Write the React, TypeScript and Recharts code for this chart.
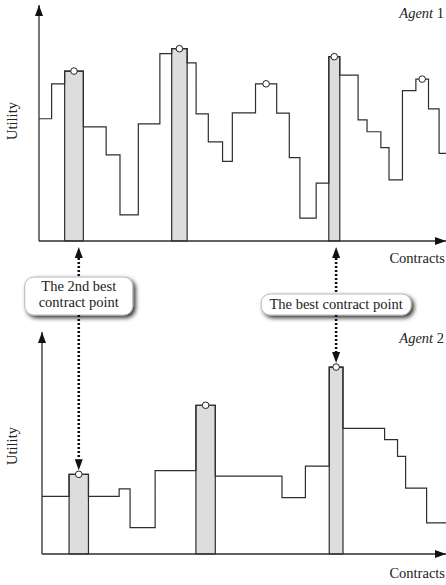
import { ComposedChart, Line, ReferenceArea, ReferenceDot, Scatter, XAxis, YAxis } from 'recharts';

// contract boundaries on a 0..100 contract axis, utility 0..100
const agent1Edges = [0, 3.1, 6.3, 10.9, 16.5, 19.9, 24.4, 29.7, 32.6, 36.4, 38.6, 41.6, 45.1, 47.5, 53.2, 58.4, 61.5, 64.1, 68.1, 71.2, 73.9, 78.4, 80.6, 84.0, 86.0, 89.3, 92.6, 95.7, 98.3];
const agent1Utility = [51.8, 66.6, 72.0, 48.4, 36.5, 11.1, 49.6, 79.4, 81.5, 75.5, 53.9, 42.0, 33.7, 54.3, 66.6, 54.2, 35.3, 9.7, 24.5, 78.1, 70.3, 51.3, 46.3, 39.6, 25.9, 63.7, 68.6, 56.0, 37.1];
const agent1Bars = [2, 8, 19];
const agent1Marks = [2, 8, 14, 19, 26];

const agent2Edges = [0, 6.7, 11.5, 19.1, 21.8, 28.0, 38.1, 42.9, 59.4, 65.2, 71.1, 74.5, 84.8, 88.0, 90.0, 95.2];
const agent2Utility = [26.0, 35.9, 26.0, 29.3, 11.9, 37.6, 67.0, 35.1, 25.4, 39.6, 84.2, 56.6, 51.5, 44.0, 29.7, 14.0];
const agent2Bars = [1, 6, 10];
const agent2Marks = [1, 6, 10];

const calloutIndex = [1, 10];
const calloutLines = [['The 2nd best', 'contract point'], ['The best contract point']];

const FONT = '"Liberation Serif", Tinos, "Times New Roman", "DejaVu Serif", serif';
const INK = '#2e2e2e';
const BAR_FILL = '#dddddd';

// box geometry for the two callouts (svg px of the lower panel)
const calloutBox = [
  { top: 39, h: 38, w: 108, first: 13.5 },
  { top: 56, h: 21, w: 150, first: 15 },
];

const X_END = 100;

const stepRows = (edges: number[], util: number[]) => [
  ...edges.map((x, i) => ({ x, u: util[i] })),
  { x: X_END, u: util[util.length - 1] },
];

const edgeAfter = (edges: number[], i: number) => (i + 1 < edges.length ? edges[i + 1] : X_END);
const mid = (edges: number[], i: number) => (edges[i] + edgeAfter(edges, i)) / 2;

const textStyle = { fontFamily: FONT, fontSize: 14.5, fill: '#222' };

function Arrowhead({ id }: { id: string }) {
  return (
    <marker
      id={id}
      viewBox="0 0 11 8"
      refX={11}
      refY={4}
      markerWidth={11}
      markerHeight={8}
      markerUnits="userSpaceOnUse"
      orient="auto-start-reverse"
    >
      <path d="M0,0 L11,4 L0,8 Z" fill="#111" />
    </marker>
  );
}

function OpenDot(props: any) {
  const { cx, cy } = props;
  if (cx == null || cy == null) return null;
  return <circle cx={cx} cy={cy} r={3.3} fill="#fff" stroke="#222" strokeWidth={1} />;
}

function Callout(props: any) {
  const { cx, cy, lines, box } = props;
  if (cx == null || cy == null) return null;
  const tipTop = 9;
  const head = 11;
  const half = 4;
  const boxBottom = box.top + box.h;
  const tipBottom = cy - 4;
  return (
    <g>
      <polygon points={`${cx},${tipTop} ${cx - half},${tipTop + head} ${cx + half},${tipTop + head}`} fill="#111" />
      <line x1={cx} x2={cx} y1={tipTop + head} y2={box.top} stroke="#111" strokeWidth={2.6} strokeDasharray="2 2" />
      <rect
        x={cx - box.w / 2}
        y={box.top}
        width={box.w}
        height={box.h}
        rx={9}
        fill="#fff"
        stroke="#b8b8b8"
        strokeWidth={1}
        filter="url(#calloutShadow)"
      />
      {lines.map((t: string, i: number) => (
        <text key={t} x={cx} y={box.top + box.first + i * 16} textAnchor="middle" style={textStyle}>
          {t}
        </text>
      ))}
      <line x1={cx} x2={cx} y1={boxBottom} y2={tipBottom - head} stroke="#111" strokeWidth={2.6} strokeDasharray="2 2" />
      <polygon points={`${cx},${tipBottom} ${cx - half},${tipBottom - head} ${cx + half},${tipBottom - head}`} fill="#111" />
    </g>
  );
}

type PanelProps = {
  id: string;
  edges: number[];
  util: number[];
  bars: number[];
  marks: number[];
  height: number;
  top: number;
  marginTop: number;
  yAxisWidth: number;
  xAxisHeight: number;
  agentNo: string;
  agentY: number;
  contractsDy: number;
  utilityY: number;
  withCallouts?: boolean;
};

function Panel(p: PanelProps) {
  const rows = stepRows(p.edges, p.util);
  const markRows = p.marks.map((i) => ({ x: mid(p.edges, i), u: p.util[i] }));
  const plotBottom = p.height - p.xAxisHeight;
  return (
    <div style={{ position: 'absolute', left: 0, top: p.top, width: 446, height: p.height }}>
      <ComposedChart
        width={446}
        height={p.height}
        data={rows}
        margin={{ top: p.marginTop, right: 0, bottom: 0, left: 0 }}
        style={{ overflow: 'visible' }}
      >
        <defs>
          <Arrowhead id={`${p.id}-arrow`} />
          <filter id="calloutShadow" x="-20%" y="-40%" width="150%" height="200%">
            <feDropShadow dx={2.5} dy={2.5} stdDeviation={2} floodColor="#000" floodOpacity={0.8} />
          </filter>
        </defs>
        <XAxis
          type="number"
          dataKey="x"
          domain={[0, X_END]}
          tick={false}
          tickLine={false}
          height={p.xAxisHeight}
          axisLine={{ stroke: INK, strokeWidth: 1.3, markerEnd: `url(#${p.id}-arrow)` }}
        />
        <YAxis
          type="number"
          domain={[0, 100]}
          tick={false}
          tickLine={false}
          width={p.yAxisWidth}
          axisLine={{ stroke: INK, strokeWidth: 1.3, markerStart: `url(#${p.id}-arrow)` }}
        />
        {p.bars.map((i) => (
          <ReferenceArea
            key={i}
            x1={p.edges[i]}
            x2={edgeAfter(p.edges, i)}
            y1={0}
            y2={p.util[i]}
            fill={BAR_FILL}
            fillOpacity={1}
            stroke={INK}
            strokeWidth={1.2}
          />
        ))}
        <Line
          type="stepAfter"
          dataKey="u"
          stroke={INK}
          strokeWidth={1.2}
          dot={false}
          activeDot={false}
          isAnimationActive={false}
        />
        <Scatter data={markRows} dataKey="u" shape={<OpenDot />} isAnimationActive={false} />
        {p.withCallouts &&
          calloutIndex.map((i, k) => (
            <ReferenceDot
              key={i}
              x={mid(p.edges, i)}
              y={p.util[i]}
              ifOverflow="visible"
              shape={(s: any) => <Callout {...s} lines={calloutLines[k]} box={calloutBox[k]} />}
            />
          ))}
        <text x={444} y={p.agentY} textAnchor="end" style={textStyle}>
          <tspan style={{ fontStyle: 'italic' }}>Agent</tspan> {p.agentNo}
        </text>
        <text x={445} y={plotBottom + p.contractsDy} textAnchor="end" style={textStyle}>
          Contracts
        </text>
        <text
          x={17}
          y={p.utilityY}
          transform={`rotate(-90 17 ${p.utilityY})`}
          textAnchor="middle"
          style={textStyle}
        >
          Utility
        </text>
      </ComposedChart>
    </div>
  );
}

export default function App() {
  return (
    <div style={{ position: 'absolute', left: 0, top: 0, width: 446, height: 585, background: '#fff', overflow: 'hidden' }}>
      <Panel
        id="a1"
        edges={agent1Edges}
        util={agent1Utility}
        bars={agent1Bars}
        marks={agent1Marks}
        top={0}
        height={270}
        marginTop={5}
        yAxisWidth={39}
        xAxisHeight={29}
        agentNo="1"
        agentY={18}
        contractsDy={22}
        utilityY={121}
      />
      <Panel
        id="a2"
        edges={agent2Edges}
        util={agent2Utility}
        bars={agent2Bars}
        marks={agent2Marks}
        top={238}
        height={347}
        marginTop={94}
        yAxisWidth={42}
        xAxisHeight={31}
        agentNo="2"
        agentY={105}
        contractsDy={24}
        utilityY={208}
        withCallouts
      />
    </div>
  );
}
